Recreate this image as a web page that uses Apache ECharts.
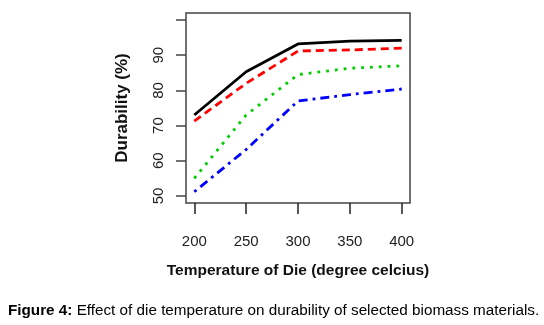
<!DOCTYPE html>
<html>
<head>
<meta charset="utf-8">
<script src="https://cdn.jsdelivr.net/npm/echarts@6/dist/echarts.min.js"></script>
<style>
  html, body { margin: 0; padding: 0; background: #fff; }
  #chart { width: 544px; height: 325px; }
</style>
</head>
<body>
<div id="chart"></div>
<script>
var chartDom = document.getElementById('chart');
var myChart = echarts.init(chartDom);

// die temperature (degree celcius)
var temps = [200, 250, 300, 350, 400];
// durability (%) of the four biomass materials
var durBlack = [73, 85.3, 93.2, 94, 94.2];
var durRed = [71.3, 82, 91.2, 91.5, 92];
var durGreen = [55, 73, 84.5, 86.3, 87];
var durBlue = [51.2, 63.2, 77, 78.8, 80.4];

var xTicks = [200, 250, 300, 350, 400];
var yTicks = [50, 60, 70, 80, 90, 100];
var yLabels = [50, 60, 70, 80, 90];

var sans = "'Liberation Sans', Arial, sans-serif";

function pairs(vals) {
  return temps.map(function (t, i) { return [t, vals[i]]; });
}

function mkLine(vals, color, dash) {
  return {
    type: 'line',
    data: pairs(vals),
    symbol: 'none',
    silent: true,
    lineStyle: { color: color, width: 2.8, type: dash, cap: 'butt' }
  };
}

var option = {
  animation: false,
  backgroundColor: '#fff',
  grid: {
    left: 186, right: 134, top: 13, bottom: 122,
    show: true, borderColor: '#444', borderWidth: 1.5
  },
  xAxis: {
    type: 'value',
    min: 192, max: 408,
    axisLine: { show: false },
    splitLine: { show: false },
    axisTick: { show: true, length: 11, customValues: xTicks, lineStyle: { color: '#222', width: 1.5 } },
    axisLabel: {
      customValues: xTicks, margin: 31,
      fontFamily: sans, fontSize: 15, color: '#222'
    },
    name: 'Temperature of Die (degree celcius)',
    nameLocation: 'middle', nameGap: 60,
    nameTextStyle: { fontFamily: sans, fontWeight: 'bold', fontSize: 15.5, color: '#111' }
  },
  yAxis: {
    type: 'value',
    min: 48, max: 102,
    axisLine: { show: false },
    splitLine: { show: false },
    axisTick: { show: true, length: 10, customValues: yTicks, lineStyle: { color: '#444', width: 1.5 } },
    axisLabel: {
      customValues: yLabels, rotate: 90, margin: 20,
      fontFamily: sans, fontSize: 15, color: '#222'
    },
    name: 'Durability (%)',
    nameLocation: 'middle', nameGap: 55, nameRotate: 90,
    nameTextStyle: { fontFamily: sans, fontWeight: 'bold', fontSize: 17, color: '#111' }
  },
  series: [
    mkLine(durBlack, '#000000', 'solid'),
    mkLine(durRed, '#ff0000', [8, 5]),
    mkLine(durGreen, '#00cc00', [2.8, 6]),
    mkLine(durBlue, '#0000ff', [2.8, 5, 9, 5])
  ],
  graphic: [
    {
      type: 'text',
      left: 8, top: 303,
      style: {
        text: '{b|Figure 4:} Effect of die temperature on durability of selected biomass materials.',
        rich: {
          b: { fontWeight: 'bold', fontSize: 15.25, fontFamily: sans, fill: '#000' }
        },
        font: '15.25px ' + sans,
        fill: '#000'
      }
    }
  ]
};

option && myChart.setOption(option);
</script>
</body>
</html>
